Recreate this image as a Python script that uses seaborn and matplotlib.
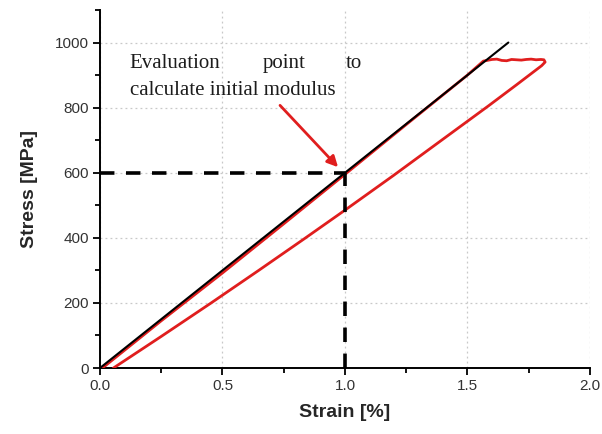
import numpy as np
import pandas as pd
import matplotlib
matplotlib.use("Agg")
import matplotlib.pyplot as plt
from matplotlib.ticker import MultipleLocator
import seaborn as sns

# Linear reference line used for the initial modulus (600 MPa per % strain)
ref_strain = [0.0, 1.667]
ref_stress = [0.0, 1000.0]

# Measured load/unload loop (strain in %, stress in MPa)
loop_strain = [0.01, 0.25, 0.50, 0.75, 1.00, 1.25, 1.50, 1.565,
               1.58, 1.60, 1.62, 1.64, 1.66, 1.68, 1.70, 1.72, 1.74, 1.76,
               1.78, 1.80, 1.812, 1.817, 1.803,
               1.70, 1.585, 1.40, 1.197, 1.0, 0.83, 0.65, 0.452, 0.25, 0.055]
loop_stress = [0.0, 145.0, 292.0, 443.0, 595.0, 748.0, 900.0, 943.0,
               945.0, 948.0, 949.0, 945.0, 944.0, 948.0, 947.0, 946.0, 948.0, 949.0,
               947.0, 948.0, 947.0, 940.0, 929.0,
               870.0, 805.0, 703.0, 591.0, 485.0, 395.0, 301.0, 199.0, 97.0, 0.0]

# Evaluation point for the initial modulus
eval_strain = 1.0
eval_stress = 600.0

sns.set_theme(style="ticks")
plt.rcParams["font.family"] = ["Liberation Sans", "DejaVu Sans"]

fig = plt.figure(figsize=(6.02, 4.34), dpi=100)
ax = fig.add_axes([0.166, 0.152, 0.814, 0.825])

ref_df = pd.DataFrame({"strain": ref_strain, "stress": ref_stress})
loop_df = pd.DataFrame({"strain": loop_strain, "stress": loop_stress})

sns.lineplot(data=loop_df, x="strain", y="stress", sort=False, estimator=None,
             color="#e01e1e", lw=2.0, ax=ax, zorder=3)
sns.lineplot(data=ref_df, x="strain", y="stress", sort=False, estimator=None,
             color="black", lw=1.5, ax=ax, zorder=4)

# Dashed guides to the evaluation point
dash = (0, (4, 3.2))
ax.plot([0, eval_strain], [eval_stress, eval_stress], color="black", lw=2.6,
        ls=dash, zorder=5)
ax.plot([eval_strain, eval_strain], [0, eval_stress], color="black", lw=2.6,
        ls=dash, zorder=5)

# Annotation
serif = ["Liberation Serif", "DejaVu Serif"]
txt_color = "#1c1c1c"
ax.text(0.122, 936, "Evaluation", family=serif, fontsize=15, ha="left",
        va="center", color=txt_color)
ax.text(0.751, 936, "point", family=serif, fontsize=15, ha="center",
        va="center", color=txt_color)
ax.text(1.069, 936, "to", family=serif, fontsize=15, ha="right",
        va="center", color=txt_color)
ax.text(0.122, 853, "calculate initial modulus", family=serif, fontsize=15,
        ha="left", va="center", color=txt_color)
ax.annotate("", xy=(0.972, 617), xytext=(0.735, 807),
            arrowprops=dict(arrowstyle="-|>", color="#e01e1e", lw=2.0,
                            mutation_scale=16, shrinkA=0, shrinkB=0),
            zorder=6)

ax.set_xlim(0, 2.0)
ax.set_ylim(0, 1100)
ax.xaxis.set_major_locator(MultipleLocator(0.5))
ax.xaxis.set_minor_locator(MultipleLocator(0.25))
ax.yaxis.set_major_locator(MultipleLocator(200))
ax.yaxis.set_minor_locator(MultipleLocator(100))
ax.set_yticks([0, 200, 400, 600, 800, 1000])

ax.grid(True, which="major", color="#c8c8c8", ls=(0, (1.5, 2.5)), lw=0.9)
ax.set_axisbelow(True)

for side in ("top", "right"):
    ax.spines[side].set_visible(False)
for side in ("left", "bottom"):
    ax.spines[side].set_linewidth(1.4)
    ax.spines[side].set_color("black")

ax.tick_params(which="major", direction="out", length=5, width=1.3,
               labelsize=11, colors="black", labelcolor="#333333", pad=3)
ax.tick_params(which="minor", direction="out", length=3.5, width=1.3,
               colors="black")

ax.set_xlabel("Strain [%]", fontsize=14, fontweight="bold", labelpad=8)
ax.set_ylabel("Stress [MPa]", fontsize=14, fontweight="bold", labelpad=12)

fig.savefig("out.png", dpi=100, facecolor="white")
